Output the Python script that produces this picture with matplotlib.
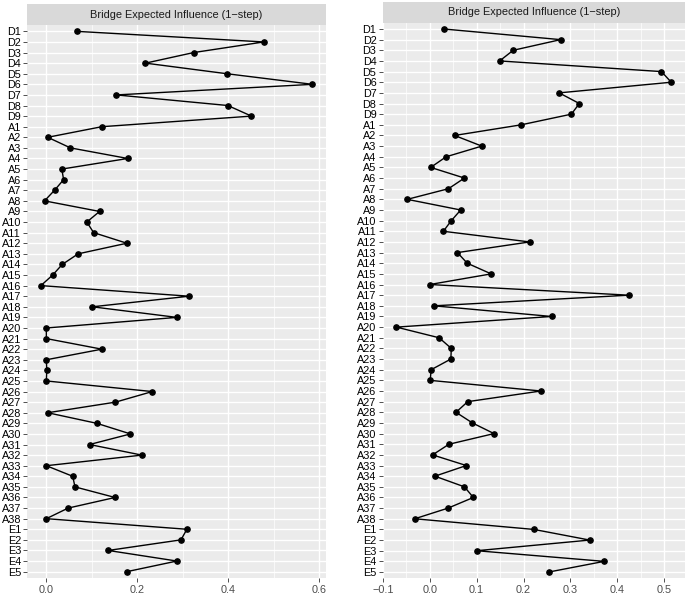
import matplotlib
matplotlib.use("Agg")
import matplotlib.pyplot as plt
from matplotlib.ticker import MultipleLocator, FuncFormatter

# node labels, top to bottom
nodes = (["D%d" % i for i in range(1, 10)]
         + ["A%d" % i for i in range(1, 39)]
         + ["E%d" % i for i in range(1, 6)])

# bridge expected influence, left panel
bei_left = [0.067, 0.478, 0.324, 0.218, 0.397, 0.585, 0.154, 0.399, 0.451,
            0.122, 0.003, 0.053, 0.179, 0.034, 0.038, 0.018, -0.004, 0.117,
            0.089, 0.104, 0.177, 0.070, 0.035, 0.014, -0.012, 0.314, 0.101,
            0.287, 0.000, 0.000, 0.122, 0.000, 0.001, 0.000, 0.233, 0.152,
            0.003, 0.111, 0.185, 0.095, 0.210, 0.000, 0.058, 0.063, 0.151,
            0.048, 0.000,
            0.309, 0.296, 0.136, 0.287, 0.177]

# bridge expected influence, right panel
bei_right = [0.030, 0.279, 0.178, 0.149, 0.494, 0.515, 0.276, 0.319, 0.302,
             0.195, 0.053, 0.111, 0.035, 0.002, 0.074, 0.040, -0.048, 0.066,
             0.046, 0.029, 0.213, 0.059, 0.080, 0.131, 0.000, 0.425, 0.009,
             0.260, -0.071, 0.020, 0.046, 0.045, 0.003, 0.001, 0.237, 0.081,
             0.056, 0.091, 0.137, 0.041, 0.006, 0.078, 0.011, 0.074, 0.093,
             0.039, -0.032,
             0.222, 0.341, 0.100, 0.372, 0.254]

title = "Bridge Expected Influence (1\u2212step)"
FONT = "Liberation Sans"

W, H = 685, 594
fig = plt.figure(figsize=(W / 100, H / 100), dpi=100)


def panel(px_left, px_right, px_top, px_bottom, strip_top, values, major):
    ax = fig.add_axes([px_left / W, 1 - px_bottom / H,
                       (px_right - px_left) / W, (px_bottom - px_top) / H])
    ypos = list(range(len(nodes)))
    ax.set_facecolor("#EBEBEB")
    ax.plot(values, ypos, color="black", lw=1.0, zorder=3)
    ax.plot(values, ypos, "o", color="black", ms=3.8, zorder=4)

    lo, hi = min(values), max(values)
    pad = (hi - lo) * 0.05
    ax.set_xlim(lo - pad, hi + pad)
    ax.set_ylim(len(nodes) - 0.4, -0.6)

    ax.set_yticks(ypos)
    ax.set_yticklabels(nodes, fontsize=7.8, family=FONT, color="black")
    ax.xaxis.set_major_locator(MultipleLocator(major))
    ax.xaxis.set_minor_locator(MultipleLocator(major / 2))
    ax.xaxis.set_major_formatter(
        FuncFormatter(lambda v, p: ("%.1f" % v).replace("-", "\u2212")))
    ax.tick_params(axis="x", labelsize=7.8, labelcolor="#4D4D4D", length=3,
                   width=0.6, color="#333333", pad=2)
    ax.tick_params(axis="x", which="minor", length=0)
    ax.tick_params(axis="y", length=3, width=0.6, color="#333333", pad=1.5)
    for lab in ax.get_xticklabels():
        lab.set_family(FONT)

    ax.grid(True, which="major", color="white", lw=1.0, zorder=0)
    ax.grid(True, which="minor", axis="x", color="white", lw=0.5, zorder=0)
    ax.set_axisbelow(True)
    for s in ax.spines.values():
        s.set_visible(False)

    # facet strip
    st = fig.add_axes([px_left / W, 1 - px_top / H,
                       (px_right - px_left) / W, (px_top - strip_top) / H])
    st.set_facecolor("#D9D9D9")
    st.set_xticks([])
    st.set_yticks([])
    for s in st.spines.values():
        s.set_visible(False)
    st.text(0.5, 0.5, title, ha="center", va="center", fontsize=7.9,
            family=FONT, color="#1A1A1A", transform=st.transAxes)
    return ax


panel(27.3, 326, 25, 578, 4, bei_left, 0.2)
panel(382.7, 685, 22.6, 578.4, 1.7, bei_right, 0.1)

fig.patch.set_facecolor("white")
fig.savefig("out.png", dpi=100)
